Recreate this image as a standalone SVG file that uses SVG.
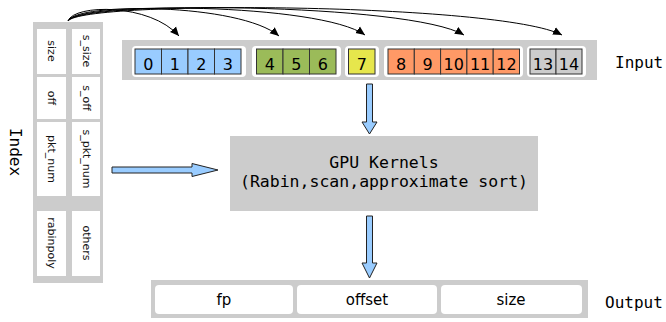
<svg xmlns="http://www.w3.org/2000/svg" width="666" height="322" viewBox="0 0 666 322">
<style>
.panel{fill:#cccccc}
.wb{fill:#ffffff}
.cell{stroke:#333333;stroke-width:1}
.num{font-family:"DejaVu Sans",sans-serif;font-size:16px;text-anchor:middle;fill:#000}
.idx{font-family:"DejaVu Sans",sans-serif;font-size:11px;text-anchor:middle;dominant-baseline:central;fill:#111}
.mono{font-family:"DejaVu Sans Mono",monospace;font-size:16px;fill:#000}
.gpu{font-family:"DejaVu Sans Mono",monospace;font-size:16.5px;fill:#000;text-anchor:middle}
.out{font-family:"DejaVu Sans",sans-serif;font-size:15px;text-anchor:middle;fill:#000}
.big{fill:#99ccff;stroke:#222;stroke-width:1}
.curve{fill:none;stroke:#000;stroke-width:1}
</style>
<defs>
<marker id="ah" markerWidth="10" markerHeight="10" refX="9" refY="5" orient="auto" markerUnits="userSpaceOnUse">
<path d="M0,1 L9,5 L0,9 Z" fill="#000"/>
</marker>
</defs>
<rect width="666" height="322" fill="#fff"/>

<g id="index">
<rect class="panel" x="33" y="22" width="70" height="261"/>
<rect class="wb" x="37" y="29" width="29" height="45"/>
<rect class="wb" x="72" y="29" width="28" height="45"/>
<rect class="wb" x="37" y="77" width="29" height="42"/>
<rect class="wb" x="72" y="77" width="28" height="42"/>
<rect class="wb" x="37" y="122" width="29" height="74"/>
<rect class="wb" x="72" y="122" width="28" height="74"/>
<rect class="wb" x="37" y="211" width="29" height="65"/>
<rect class="wb" x="72" y="211" width="28" height="65"/>
<text class="idx" transform="translate(51.5,51) rotate(90)">size</text>
<text class="idx" transform="translate(86,51) rotate(90)">s_size</text>
<text class="idx" transform="translate(51.5,98) rotate(90)">off</text>
<text class="idx" transform="translate(86,98) rotate(90)">s_off</text>
<text class="idx" transform="translate(51.5,159) rotate(90)">pkt_num</text>
<text class="idx" transform="translate(86,159) rotate(90)">s_pkt_num</text>
<text class="idx" transform="translate(51.5,243) rotate(90)">rabinpoly</text>
<text class="idx" transform="translate(86,243) rotate(90)">others</text>
</g>
<g id="index-label">
<text class="mono" text-anchor="middle" transform="translate(10,152) rotate(90)">Index</text>
</g>

<g id="input">
<rect class="panel" x="122" y="40" width="475" height="40"/>
<rect class="wb" x="132" y="46" width="114" height="31" rx="4"/>
<rect class="wb" x="252" y="46" width="89" height="31" rx="4"/>
<rect class="wb" x="345" y="46" width="34" height="31" rx="4"/>
<rect class="wb" x="384" y="46" width="139" height="31" rx="4"/>
<rect class="wb" x="527" y="46" width="59" height="31" rx="4"/>
<g fill="#99ccff" class="cell">
<rect x="135" y="49" width="26.5" height="25"/><rect x="161.5" y="49" width="26.5" height="25"/><rect x="188" y="49" width="26.5" height="25"/><rect x="214.5" y="49" width="26.5" height="25"/>
</g>
<g fill="#9bbb59" class="cell">
<rect x="256.5" y="49" width="26.5" height="25"/><rect x="283" y="49" width="26.5" height="25"/><rect x="309.5" y="49" width="26.5" height="25"/>
</g>
<g fill="#e6e64c" class="cell">
<rect x="348.5" y="49" width="26.5" height="25"/>
</g>
<g fill="#ff9966" class="cell">
<rect x="388" y="49" width="26.3" height="25"/><rect x="414.3" y="49" width="26.3" height="25"/><rect x="440.6" y="49" width="26.3" height="25"/><rect x="466.9" y="49" width="26.3" height="25"/><rect x="493.2" y="49" width="26.3" height="25"/>
</g>
<g fill="#cccccc" class="cell">
<rect x="530" y="49" width="26" height="25"/><rect x="556" y="49" width="26" height="25"/>
</g>
<text class="num" x="148.3" y="70">0</text>
<text class="num" x="174.8" y="70">1</text>
<text class="num" x="201.3" y="70">2</text>
<text class="num" x="227.8" y="70">3</text>
<text class="num" x="269.8" y="70">4</text>
<text class="num" x="296.3" y="70">5</text>
<text class="num" x="322.8" y="70">6</text>
<text class="num" x="361.8" y="70">7</text>
<text class="num" x="401.2" y="70">8</text>
<text class="num" x="427.5" y="70">9</text>
<text class="num" x="453.8" y="70">10</text>
<text class="num" x="480.1" y="70">11</text>
<text class="num" x="506.4" y="70">12</text>
<text class="num" x="543" y="70">13</text>
<text class="num" x="569" y="70">14</text>
</g>
<g id="input-label"><text class="mono" x="615" y="68">Input</text></g>

<g id="gpu">
<rect class="panel" x="230" y="136" width="308" height="75"/>
<text class="gpu" x="384" y="168">GPU Kernels</text>
<text class="gpu" x="384" y="187">(Rabin,scan,approximate sort)</text>
</g>

<g id="output">
<rect class="panel" x="151" y="280" width="437" height="38"/>
<rect class="wb" x="155" y="285" width="138" height="29" rx="4"/>
<rect class="wb" x="297" y="285" width="140" height="29" rx="4"/>
<rect class="wb" x="441" y="285" width="141" height="29" rx="4"/>
<text class="out" x="224" y="305">fp</text>
<text class="out" x="367" y="305">offset</text>
<text class="out" x="511" y="305">size</text>
</g>
<g id="output-label"><text class="mono" x="605" y="308">Output</text></g>

<g id="connectors">
<path class="curve" marker-end="url(#ah)" d="M68,21 C74,4 150,3 179,36"/>
<path class="curve" marker-end="url(#ah)" d="M68,21 C76,2 240,3 279,36"/>
<path class="curve" marker-end="url(#ah)" d="M68,21 C78,1 320,3 365,35"/>
<path class="curve" marker-end="url(#ah)" d="M68,21 C80,0 410,3 464,35"/>
<path class="curve" marker-end="url(#ah)" d="M68,21 C82,0 500,3 562,35"/>
<path class="big" d="M112,167 L192,167 L192,163.5 L218,170 L192,176.5 L192,173 L112,173 Z"/>
<path class="big" d="M366.5,84 L372.5,84 L372.5,122 L377,122 L369.5,134 L362,122 L366.5,122 Z"/>
<path class="big" d="M366.5,216 L372.5,216 L372.5,263 L377,263 L369.5,278 L362,263 L366.5,263 Z"/>
</g>
</svg>
